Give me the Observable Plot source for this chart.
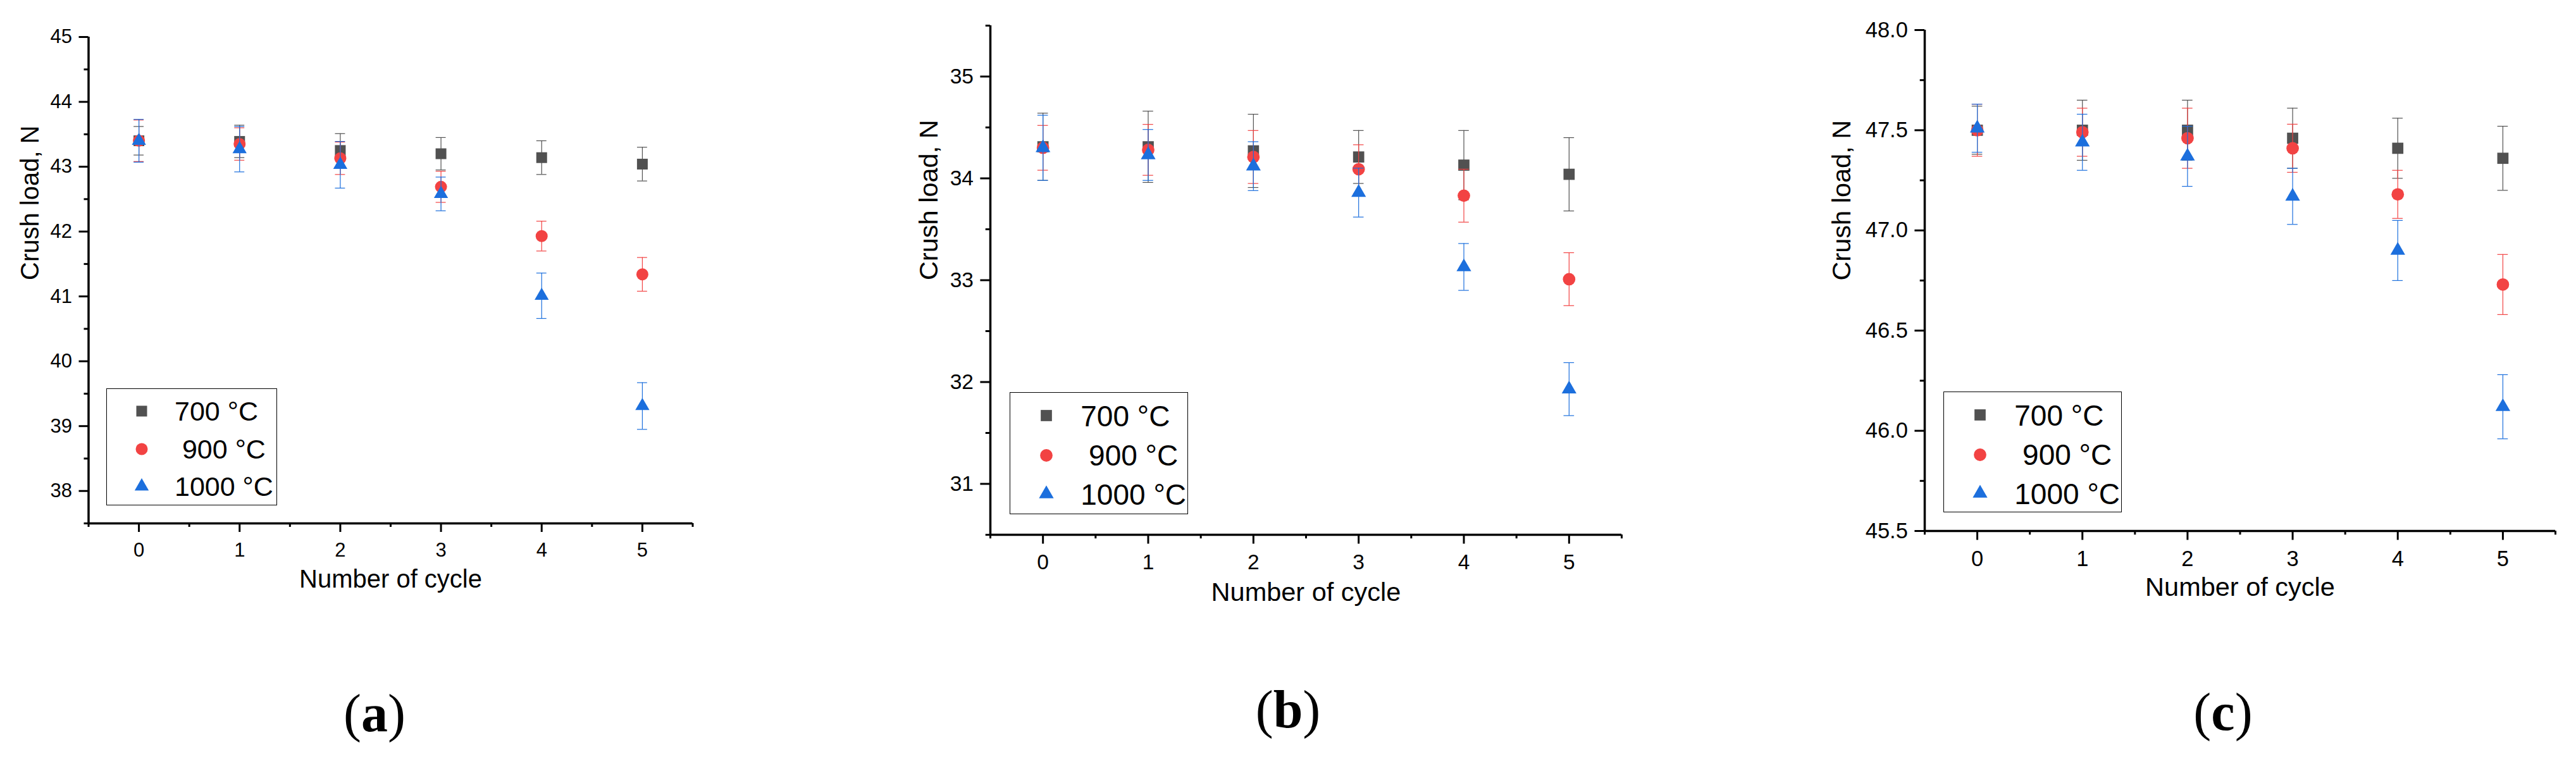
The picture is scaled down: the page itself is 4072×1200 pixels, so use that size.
<!DOCTYPE html>
<html>
<head>
<meta charset="utf-8">
<script src="https://cdn.jsdelivr.net/npm/d3@7"></script>
<script src="https://cdn.jsdelivr.net/npm/@observablehq/plot@0.6"></script>
<style>
  body { margin: 0; background: #fff; }
  #fig { position: relative; width: 4072px; height: 1200px; background: #fff; overflow: hidden; }
  .panel { position: absolute; top: 0; }
  .caption { position: absolute; transform: translate(-50%, -50%); font-family: "Liberation Serif", "Times New Roman", serif; font-size: 84px; color: #000; white-space: nowrap; }
  .legend { position: absolute; border: 1.5px solid #000; background: #fff; box-sizing: border-box; font-family: "Liberation Sans", Arial, sans-serif; }
  .legend .row { position: absolute; white-space: pre; line-height: 1; color: #000; }
  .legend svg { position: absolute; overflow: visible; }
</style>
</head>
<body>
<div id="fig"></div>
<script>
// number of cycle
const cycles = [0, 1, 2, 3, 4, 5];
const seriesNames = ["700 °C", " 900 °C", "1000 °C"];
const colors = ["#515151", "#f24343", "#1c6fdd"];
const symbols = ["square", "circle", "triangle"];

// panel (a)
const a700 = [43.40, 43.39, 43.25, 43.20, 43.14, 43.04];
const a700err = [0.22, 0.25, 0.26, 0.25, 0.26, 0.26];
const a900 = [43.40, 43.35, 43.13, 42.69, 41.93, 41.34];
const a900err = [0.32, 0.25, 0.25, 0.24, 0.23, 0.26];
const a1000 = [43.40, 43.27, 43.03, 42.58, 41.01, 39.31];
const a1000err = [0.33, 0.35, 0.36, 0.26, 0.35, 0.36];
const aTicks = [38, 39, 40, 41, 42, 43, 44, 45];
const aMinor = [37.5, 38.5, 39.5, 40.5, 41.5, 42.5, 43.5, 44.5];

// panel (b)
const b700 = [34.31, 34.31, 34.27, 34.21, 34.13, 34.04];
const b700err = [0.33, 0.35, 0.36, 0.26, 0.34, 0.36];
const b900 = [34.30, 34.28, 34.21, 34.09, 33.83, 33.01];
const b900err = [0.22, 0.25, 0.26, 0.24, 0.26, 0.26];
const b1000 = [34.30, 34.23, 34.12, 33.86, 33.13, 31.93];
const b1000err = [0.32, 0.25, 0.24, 0.24, 0.23, 0.26];
const bTicks = [31, 32, 33, 34, 35];
const bMinor = [30.5, 31.5, 32.5, 33.5, 34.5, 35.5];

// panel (c)
const c700 = [47.50, 47.50, 47.50, 47.46, 47.41, 47.36];
const c700err = [0.12, 0.15, 0.15, 0.15, 0.15, 0.16];
const c900 = [47.50, 47.49, 47.46, 47.41, 47.18, 46.73];
const c900err = [0.13, 0.12, 0.15, 0.12, 0.12, 0.15];
const c1000 = [47.51, 47.44, 47.37, 47.17, 46.90, 46.12];
const c1000err = [0.12, 0.14, 0.15, 0.14, 0.15, 0.16];
const cTicks = [45.5, 46.0, 46.5, 47.0, 47.5, 48.0];
const cMinor = [45.75, 46.25, 46.75, 47.25, 47.75];

const xMinor = [-0.5, 0.5, 1.5, 2.5, 3.5, 4.5, 5.5];
const yTitle = "Crush load, N";
const xTitle = "Number of cycle";

const panels = [
  {key: "a", left: 0, width: 1357, mL: 139.5, mR: 262.5, mT: 58, mB: 173,
   y: [a700, a900, a1000], e: [a700err, a900err, a1000err], dom: [37.5, 45], ticks: aTicks, minor: aMinor, fmt: d3.format("d"),
   k: 1, tickFont: 31, titleFont: 40, legFont: 43, yTitleDx: -92, xTitleDy: 101,
   leg: {x: 168, y: 614, w: 270, h: 185}, cap: {x: 592, y: 1127}},
  {key: "b", left: 1357, width: 1357, mL: 208, mR: 151, mT: 40, mB: 155,
   y: [b700, b900, b1000], e: [b700err, b900err, b1000err], dom: [30.5, 35.5], ticks: bTicks, minor: bMinor, fmt: d3.format("d"),
   k: 1.04, tickFont: 33.5, titleFont: 41.5, legFont: 46, yTitleDx: -97, xTitleDy: 104,
   leg: {x: 1596, y: 620, w: 282, h: 193}, cap: {x: 2036, y: 1121}},
  {key: "c", left: 2714, width: 1358, mL: 328, mR: 33, mT: 47, mB: 161,
   y: [c700, c900, c1000], e: [c700err, c900err, c1000err], dom: [45.5, 48], ticks: cTicks, minor: cMinor, fmt: d3.format(".1f"),
   k: 1.04, tickFont: 34.5, titleFont: 41.5, legFont: 46, yTitleDx: -131, xTitleDy: 102,
   leg: {x: 3072, y: 619, w: 282, h: 191}, cap: {x: 3514, y: 1125}}
];

const fig = document.getElementById("fig");

// marker radius per symbol (Plot symbol area = pi r^2)
const baseR = {square: 9.6, circle: 9.5, triangle: 8.3};

panels.forEach(p => {
  const marks = [];
  p.y.forEach((vals, i) => {
    const data = cycles.map((c, j) => ({x: c, y: vals[j], lo: vals[j] - p.e[i][j], hi: vals[j] + p.e[i][j]}));
    marks.push(
      Plot.ruleX(data, {x: "x", y1: "lo", y2: "hi", stroke: colors[i], strokeWidth: 1.2}),
      Plot.ruleY(data, {y: "hi", x1: d => d.x - 0.05, x2: d => d.x + 0.05, stroke: colors[i], strokeWidth: 1.2}),
      Plot.ruleY(data, {y: "lo", x1: d => d.x - 0.05, x2: d => d.x + 0.05, stroke: colors[i], strokeWidth: 1.2}),
      Plot.dot(data, {x: "x", y: "y", symbol: symbols[i], r: baseR[symbols[i]] * p.k, fill: colors[i], stroke: "none"})
    );
  });

  const chart = Plot.plot({
    width: p.width,
    height: 1000,
    marginLeft: p.mL,
    marginRight: p.mR,
    marginTop: p.mT,
    marginBottom: p.mB,
    style: {fontFamily: "Liberation Sans, Arial, sans-serif", fontSize: p.tickFont + "px", color: "black", background: "transparent"},
    x: {domain: [-0.5, 5.5]},
    y: {domain: p.dom},
    marks: [
      Plot.axisX({ticks: cycles, tickSize: 14 * p.k, tickPadding: 16 * p.k, strokeWidth: 3, label: null, tickFormat: d3.format("d")}),
      Plot.axisX({ticks: xMinor, tickSize: 6 * p.k, text: null, strokeWidth: 3, label: null}),
      Plot.axisY({ticks: p.ticks, tickSize: 15 * p.k, tickPadding: 11, strokeWidth: 3, label: null, tickFormat: p.fmt}),
      Plot.axisY({ticks: p.minor, tickSize: 7 * p.k, text: null, strokeWidth: 3, label: null}),
      Plot.ruleX([-0.5], {strokeWidth: 3.5}),
      Plot.ruleY([p.dom[0]], {strokeWidth: 3.5}),
      ...marks,
      Plot.text([yTitle], {text: d => d, frameAnchor: "left", dx: p.yTitleDx, rotate: -90, fontSize: p.titleFont}),
      Plot.text([xTitle], {text: d => d, frameAnchor: "bottom", dy: p.xTitleDy, fontSize: p.titleFont})
    ]
  });
  chart.classList.add("panel");
  chart.style.left = p.left + "px";
  fig.appendChild(chart);

  // legend box
  const leg = document.createElement("div");
  leg.className = "legend";
  Object.assign(leg.style, {left: p.leg.x + "px", top: p.leg.y + "px", width: p.leg.w + "px", height: p.leg.h + "px"});
  const fs = p.legFont;
  const rowsY = [35, 95, 154].map(v => v * p.k);
  seriesNames.forEach((name, i) => {
    const r = baseR[symbols[i]] * p.k;
    const svg = d3.create("svg").attr("width", 1).attr("height", 1)
      .style("left", (55 * p.k) + "px").style("top", rowsY[i] + "px");
    svg.append("path")
      .attr("d", d3.symbol(i === 0 ? d3.symbolSquare : i === 1 ? d3.symbolCircle : d3.symbolTriangle, Math.PI * r * r)())
      .attr("fill", colors[i]);
    leg.appendChild(svg.node());
    const t = document.createElement("div");
    t.className = "row";
    t.textContent = name;
    Object.assign(t.style, {left: (107 * p.k) + "px", top: (rowsY[i] - 0.49 * fs) + "px", fontSize: fs + "px"});
    leg.appendChild(t);
  });
  fig.appendChild(leg);

  const cap = document.createElement("div");
  cap.className = "caption";
  cap.innerHTML = "(<b>" + p.key + "</b>)";
  Object.assign(cap.style, {left: p.cap.x + "px", top: p.cap.y + "px"});
  fig.appendChild(cap);
});
</script>
</body>
</html>
